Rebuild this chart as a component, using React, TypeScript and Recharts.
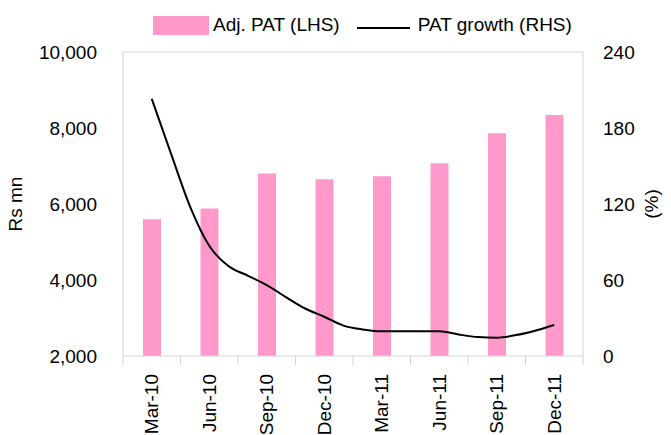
import React from "react";
import {
  ComposedChart,
  Bar,
  Line,
  XAxis,
  YAxis,
  ReferenceLine,
  Legend,
} from "recharts";

const quarters = ["Mar-10", "Jun-10", "Sep-10", "Dec-10", "Mar-11", "Jun-11", "Sep-11", "Dec-11"];
const adjPat = [5600, 5880, 6800, 6650, 6730, 7070, 7860, 8340];

const months = [
  "Mar-10", "Apr-10", "May-10", "Jun-10", "Jul-10", "Aug-10", "Sep-10", "Oct-10",
  "Nov-10", "Dec-10", "Jan-11", "Feb-11", "Mar-11", "Apr-11", "May-11", "Jun-11",
  "Jul-11", "Aug-11", "Sep-11", "Oct-11", "Nov-11", "Dec-11",
];
const patGrowth = [
  203, 160, 118, 87, 71, 63.5, 56, 46.5, 37.5, 31, 24, 21, 19.5, 19.5, 19.5, 19.5,
  17, 15, 14.5, 16.5, 20, 24.5,
];

const leftTicks = [2000, 4000, 6000, 8000, 10000];
const rightTicks = [0, 60, 120, 180, 240];

const PINK = "#ff99cc";
const GRID = "#d4d4d4";
const FONT = "'Liberation Sans', Arial, sans-serif";
const FS = 19;

const barData = quarters.map((quarter, i) => ({ quarter, pat: adjPat[i] }));
// months sit on a hidden numeric axis: Mar-10 = 0, each quarter band spans 3 months
const lineData = months.map((month, i) => ({ month, m: i, growth: patGrowth[i] }));

const QuarterTick = (props: any) => {
  const { x, y, payload, width, visibleTicksCount, index } = props;
  const half = payload?.offset ?? width / visibleTicksCount / 2;
  const last = index === visibleTicksCount - 1;
  return (
    <g>
      <line x1={x - half} x2={x - half} y1={y} y2={y + 9} stroke={GRID} />
      {last && <line x1={x + half} x2={x + half} y1={y} y2={y + 9} stroke={GRID} />}
      <text
        x={x + 6.5}
        y={y + 18}
        transform={`rotate(-90, ${x + 6.5}, ${y + 18})`}
        textAnchor="end"
        fontSize={FS}
        fontFamily={FONT}
        fill="#000"
      >
        {payload.value}
      </text>
    </g>
  );
};

const renderLegend = () => (
  <div
    style={{
      display: "flex",
      alignItems: "center",
      paddingLeft: 153,
      fontFamily: FONT,
      fontSize: FS,
      color: "#000",
      height: 50,
    }}
  >
    <span style={{ width: 56, height: 19, background: PINK, display: "inline-block" }} />
    <span style={{ marginLeft: 4 }}>Adj. PAT (LHS)</span>
    <span
      style={{ width: 53, height: 2, background: "#000", display: "inline-block", marginLeft: 17, marginTop: 6 }}
    />
    <span style={{ marginLeft: 8 }}>PAT growth (RHS)</span>
  </div>
);

const AxisTitle = ({ viewBox, value, dx }: any) => {
  const cx = viewBox.x + dx;
  const cy = viewBox.y + viewBox.height / 2;
  return (
    <text
      x={cx}
      y={cy}
      transform={`rotate(-90, ${cx}, ${cy})`}
      textAnchor="middle"
      dominantBaseline="central"
      fontSize={FS}
      fontFamily={FONT}
      fill="#000"
    >
      {value}
    </text>
  );
};

export default function App() {
  return (
    <div style={{ fontFamily: FONT }}>
      <style>{`body{margin:0}`}</style>
      <ComposedChart
        width={671}
        height={435}
        data={barData}
        margin={{ top: 52, right: 0, bottom: 0, left: 0 }}
      >
        <XAxis
          xAxisId="q"
          dataKey="quarter"
          height={79}
          axisLine={{ stroke: GRID }}
          tickLine={false}
          tickSize={0}
          tickMargin={0}
          interval={0}
          tick={<QuarterTick />}
        />
        <XAxis xAxisId="m" dataKey="m" type="number" domain={[-1.5, 22.5]} height={0} hide />
        <YAxis
          yAxisId="left"
          domain={[2000, 10000]}
          ticks={leftTicks}
          width={123}
          axisLine={{ stroke: GRID }}
          tickLine={false}
          tickSize={6}
          tickMargin={20}
          tick={{ fill: "#000", fontSize: FS, fontFamily: FONT }}
          tickFormatter={(v: number) => v.toLocaleString("en-US")}
          label={<AxisTitle value="Rs mn" dx={15} />}
        />
        <YAxis
          yAxisId="right"
          orientation="right"
          domain={[0, 240]}
          ticks={rightTicks}
          width={88}
          axisLine={{ stroke: GRID }}
          tickLine={false}
          tickSize={6}
          tickMargin={14}
          tick={{ fill: "#000", fontSize: FS, fontFamily: FONT }}
          label={<AxisTitle value="(%)" dx={68} />}
        />
        <ReferenceLine xAxisId="q" yAxisId="left" y={10000} stroke={GRID} />
        <Legend
          verticalAlign="middle"
          align="center"
          content={renderLegend}
          wrapperStyle={{ top: 0, left: 0, width: 671 }}
        />
        <Bar
          xAxisId="q"
          yAxisId="left"
          dataKey="pat"
          name="Adj. PAT (LHS)"
          fill={PINK}
          barSize={18}
          isAnimationActive={false}
        />
        <Line
          xAxisId="m"
          yAxisId="right"
          data={lineData}
          dataKey="growth"
          name="PAT growth (RHS)"
          type="monotone"
          stroke="#000"
          strokeWidth={2}
          dot={false}
          isAnimationActive={false}
        />
      </ComposedChart>
    </div>
  );
}
